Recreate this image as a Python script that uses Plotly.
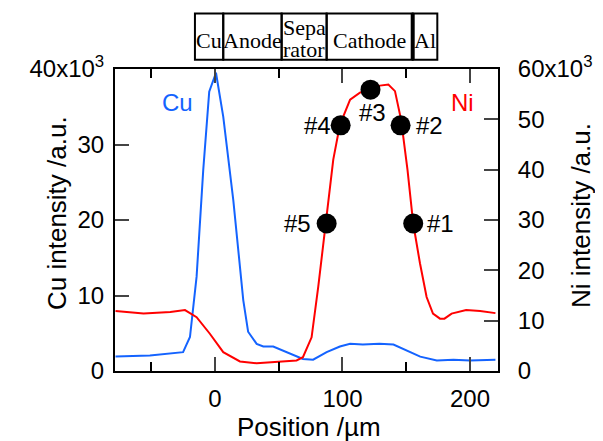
import plotly.graph_objects as go

# ---- data ----
pos_cu = [-78, -51, -25, -19.6, -14.4, -9.2, -4.5, 0.8, 6.5, 14.4, 22.2, 26, 32.7, 37.9, 45.7,
          53.6, 62.7, 69, 77, 87.6, 98, 106, 116, 129, 140, 150, 161, 174, 187, 200, 220]
cu_k = [1.93, 2.06, 2.5, 4.5, 12.5, 26.6, 37, 39.5, 33.7, 22.6, 9.4, 5.2, 3.6, 3.25, 3.25,
        2.7, 2.06, 1.6, 1.5, 2.5, 3.25, 3.6, 3.5, 3.6, 3.5, 2.7, 1.9, 1.4, 1.5, 1.4, 1.5]

pos_ni = [-78, -56, -35, -23.5, -14.4, -4, 6.5, 19.6, 32.7, 48, 64, 69, 75.8, 81, 87, 92.8, 98,
          106, 113.7, 121.6, 129.4, 136, 141.2, 146, 151, 155.5, 160.8, 166, 171, 176.5, 180,
          185.6, 197, 208, 220]
ni_k = [11.9, 11.4, 11.7, 12.1, 10.7, 7.4, 3.75, 1.9, 1.55, 1.75, 2.1, 2.75, 6.7, 16.7, 30, 42,
        48.9, 53.9, 55.3, 56, 56.7, 56.9, 55.6, 49.9, 40, 29.3, 21.4, 14.7, 11.4, 10.4, 10.4,
        11.4, 12.1, 11.9, 11.5]

point_pos = [155.5, 145.6, 122, 98.6, 87.6]
point_ni = [29.3, 48.8, 55.9, 48.8, 29.3]
point_labels = ["#1", "#2", "#3", "#4", "#5"]

layer_names = ["Cu", "Anode", "Sepa<br>rator", "Cathode", "Al"]
layer_edges = [-15.7, 6.5, 52.3, 87.6, 155.1, 174.4]

cu_ticks = [0, 10, 20, 30, 40]
cu_ticktext = ["0", "10", "20", "30", "40x10<sup>3</sup>"]
ni_ticks = [0, 10, 20, 30, 40, 50, 60]
ni_ticktext = ["0", "10", "20", "30", "40", "50", "60x10<sup>3</sup>"]
x_ticks = [0, 100, 200]
x_minor = [-50, 50, 150]

BLUE = "#1463ff"
RED = "#ff0000"
FONT = "Liberation Sans, Arial, sans-serif"
SERIF = "Liberation Serif, Times New Roman, serif"
FS = 24      # tick / label font
FT = 26      # axis title font

OFF = 8      # page body margin
W, H = 603 - OFF, 441 - OFF
ML, MT = 115 - OFF, 69 - OFF
PW, PH = 383, 302
MR, MB = W - ML - PW, H - MT - PH


def py(ypx):
    return (H - MB - (ypx - OFF)) / PH


def px(xpx):
    return (xpx - OFF - ML) / PW


fig = go.Figure()
fig.add_trace(go.Scatter(x=pos_ni, y=ni_k, mode="lines", line=dict(color=RED, width=2),
                         yaxis="y2", showlegend=False))
fig.add_trace(go.Scatter(x=pos_cu, y=cu_k, mode="lines", line=dict(color=BLUE, width=2),
                         yaxis="y", showlegend=False))
fig.add_trace(go.Scatter(x=point_pos, y=point_ni, mode="markers",
                         marker=dict(color="black", size=20), yaxis="y2", showlegend=False))

ann = []
# point labels
offsets = {"#1": ("left", 12, 0), "#2": ("left", 13, 0), "#3": ("center", 2, -23),
           "#4": ("right", -8, 0), "#5": ("right", -14, 0)}
for p, v, lab in zip(point_pos, point_ni, point_labels):
    xa, xs, ys = offsets[lab]
    ann.append(dict(x=p, y=v, xref="x", yref="y2", text=lab, showarrow=False,
                    xanchor=xa, yanchor="middle", xshift=xs, yshift=ys,
                    font=dict(family=FONT, size=FS, color="black")))
ann.append(dict(x=-29, y=35.5, xref="x", yref="y", text="Cu", showarrow=False,
                xanchor="center", yanchor="middle",
                font=dict(family=FONT, size=FS, color=BLUE)))
ann.append(dict(x=194, y=53.3, xref="x", yref="y2", text="Ni", showarrow=False,
                xanchor="center", yanchor="middle",
                font=dict(family=FONT, size=FS, color=RED)))
# axis titles
ann.append(dict(x=px(57), y=py(213), xref="paper", yref="paper", text="Cu intensity /a.u.",
                textangle=-90, showarrow=False, xanchor="center", yanchor="middle",
                font=dict(family=FONT, size=FT, color="black")))
ann.append(dict(x=px(581), y=py(216), xref="paper", yref="paper", text="Ni intensity /a.u.",
                textangle=-90, showarrow=False, xanchor="center", yanchor="middle",
                font=dict(family=FONT, size=FT, color="black")))
ann.append(dict(x=px(309), y=py(427), xref="paper", yref="paper", text="Position /µm",
                showarrow=False, xanchor="center", yanchor="middle",
                font=dict(family=FONT, size=FT, color="black")))

# layer boxes
shapes = []
ytop, ybot = py(13.5), py(59.7)
for i, name in enumerate(layer_names):
    x0, x1 = layer_edges[i], layer_edges[i + 1]
    shapes.append(dict(type="rect", xref="x", yref="paper", x0=x0, x1=x1, y0=ybot, y1=ytop,
                       line=dict(color="black", width=2)))
    if "<br>" in name:
        top, bottom = name.split("<br>")
        ann.append(dict(x=(x0 + x1) / 2, y=py(27.5), xref="x", yref="paper", text=top,
                        showarrow=False, xanchor="center", yanchor="middle",
                        font=dict(family=SERIF, size=22, color="black")))
        ann.append(dict(x=(x0 + x1) / 2, y=py(49), xref="x", yref="paper", text=bottom,
                        showarrow=False, xanchor="center", yanchor="middle",
                        font=dict(family=SERIF, size=22, color="black")))
    else:
        ann.append(dict(x=(x0 + x1) / 2, y=py(40), xref="x", yref="paper", text=name,
                        showarrow=False, xanchor="center", yanchor="middle",
                        font=dict(family=SERIF, size=22, color="black")))
# thicker divider before Al
shapes.append(dict(type="line", xref="x", yref="paper", x0=layer_edges[4], x1=layer_edges[4],
                   y0=ybot, y1=ytop, line=dict(color="black", width=4)))

fig.update_layout(
    width=W, height=H,
    margin=dict(l=ML, r=MR, t=MT, b=MB, autoexpand=False),
    plot_bgcolor="white", paper_bgcolor="white",
    font=dict(family=FONT, size=FS, color="black"),
    xaxis=dict(range=[-78.4, 222], tickvals=x_ticks, ticks="inside", ticklen=14, tickwidth=2,
               showline=True, linewidth=2, linecolor="black", mirror="ticks", showgrid=False,
               zeroline=False, tickfont=dict(family=FONT, size=FS), ticklabelstandoff=5,
               minor=dict(tickvals=x_minor, ticks="inside", ticklen=9, tickwidth=2,
                          tickcolor="black", showgrid=False)),
    yaxis=dict(range=[0, 40], tickvals=cu_ticks, ticktext=cu_ticktext, ticks="inside",
               ticklen=14, tickwidth=2, showline=True, linewidth=2, linecolor="black",
               showgrid=False, zeroline=False, tickfont=dict(family=FONT, size=FS),
               ticklabelstandoff=4),
    yaxis2=dict(range=[0, 60], tickvals=ni_ticks, ticktext=ni_ticktext, ticks="inside",
                ticklen=14, tickwidth=2, showline=True, linewidth=2, linecolor="black",
                showgrid=False, zeroline=False, overlaying="y", side="right",
                tickfont=dict(family=FONT, size=FS), ticklabelstandoff=13),
    annotations=ann, shapes=shapes,
)

fig.write_html("out.html")
